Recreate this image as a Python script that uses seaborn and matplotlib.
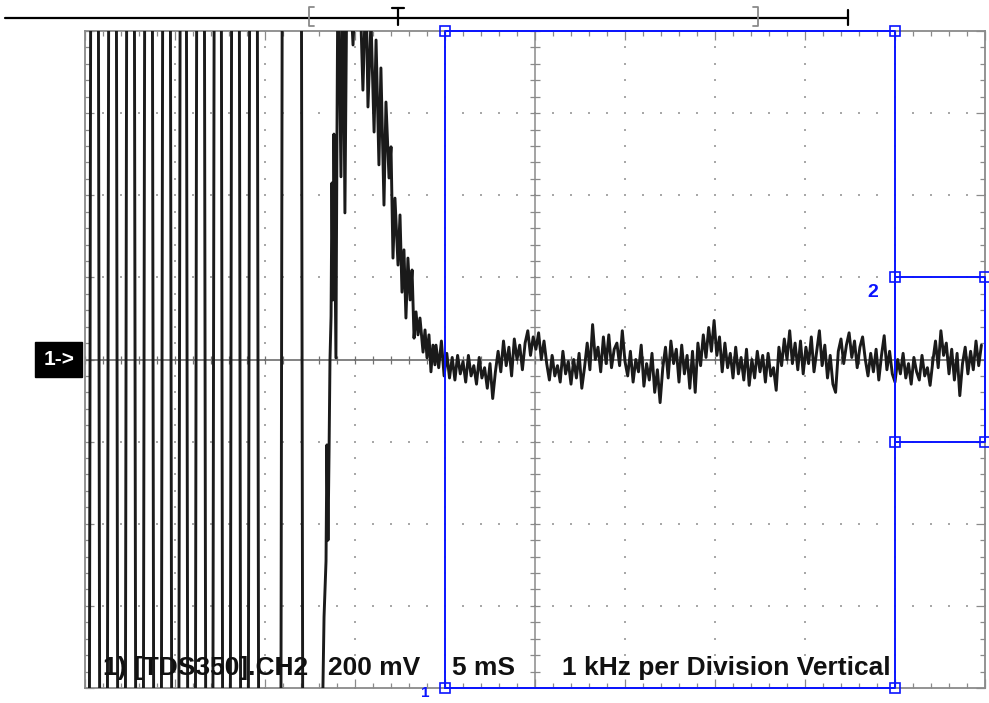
import matplotlib
matplotlib.use("Agg")
import matplotlib.pyplot as plt
import numpy as np
import pandas as pd
import seaborn as sns

# ---------------- data (time in ms, amplitude in mV) ----------------
# clipped high-amplitude sweep: times where the trace crosses the screen
cross_t = [0.28, 0.78, 1.28, 1.78, 2.28, 2.78, 3.28, 3.78, 4.28, 4.78, 5.25,
           5.67, 6.17, 6.67, 7.14, 7.61, 8.11, 8.61, 9.11, 9.61, 10.92, 12.06]
cross_dir = [1, -1, 1, -1, 1, -1, 1, -1, 1, -1, 1,
             -1, 1, -1, 1, -1, 1, -1, 1, -1, 1, -1]
clip_level = 1000  # signal beyond screen (mV)

# final rise, clipped peak and decay
peak_t = [13.11, 13.28, 13.39, 13.44, 13.50, 13.56, 13.61, 13.67, 13.72, 13.78,
          13.83, 13.89, 13.94, 14.00, 14.06, 14.22, 14.33, 14.44, 14.56, 14.72,
          14.89, 15.06, 15.28, 15.44, 15.61, 15.72, 15.89, 16.06, 16.17, 16.33,
          16.44, 16.61, 16.72, 16.89, 17.00, 17.11, 17.22, 17.39, 17.50, 17.61,
          17.72, 17.83, 17.94, 18.06, 18.17, 18.28, 18.39, 18.50, 18.61, 18.78,
          18.89, 19.00, 19.11, 19.22, 19.33, 19.44]
peak_mv = [-1100, -627, -491, -208, -440, -220, -1, 105, 430, 145,
           549, 267, 4, 559, 1022, 445, 973, 357, 998, 924,
           766, 949, 900, 656, 924, 615, 827, 554, 778, 474,
           710, 376, 627, 442, 518, 247, 393, 230, 352, 164,
           267, 101, 247, 145, 218, 52, 116, 60, 101, 18,
           72, 4, 60, -30, 35, -13]

# noise floor, sampled every 0.15 ms from 19.5 ms
noise_t0 = 19.5
noise_dt = 0.15
noise_mv = [35, -20, 45, -40, 15,
            -45, 5, -50, 10, -35, -5,
            -55, 10, -40, -15, -60, 5, -45, -20, -70, -10, -95, -30,
            20, -30, 45, -15, 30, -40, 50, 0, 35, -25, 40,
            70, 10, 55, 25, 65, 0, 45, -10,
            -50, 10, -40, -15, -55, 20, -35, -5, -60, 0, -45, 15, -70, -20,
            40, -25, 85, 0, 30, -30, 55, -10, 60, -20, 25, 40, -15, 70, -5,
            -40, 20, -55, 0, -30, 35, -65, -10, -50, 15, -80, -25, -105,
            -20, 30, -45, 45, -10, 25, -55, 35, -35, 10, -70, 20, -80, 40, -15, 60, 5, 78,
            20, 95, 10, 55,
            -30, 40, -20, 15, -45, 30, -35, 5, -50, 25, -63, 0,
            -45, 20, -30, 10, -55, 15, -40, -20, -75,
            30, -15, 50, 0, 70, -10, 40, -25,
            45, -35, 30, -10, 55, -30, 20, 70, -15, 35, -45, 10, -60, -80, 20,
            50, -10, 35, 65, 5, 45, -20, 30, 55, 0,
            -40, 15, -30, 25, -50, 10, 58, -25, 20, -35,
            -55, 0, -35, 15, -45, -10, -60, 5, -30, -50, 10, -40, -20, -63, -5,
            45, -20, 70, 10, 40, -35, 25, -50, 15, -88,
            -10, 30, -35, 20, -25, 45, -15, 35]

# cursors (ms, mV)
cursor1_t = [20, 45]
cursor1_mv = [-800, 800]
cursor2_t = [45, 50]
cursor2_mv = [-200, 200]

label_parts = ["1) [TDS350].CH2", "200 mV", "5 mS", "1 kHz per Division Vertical"]
label_t = [1.0, 13.5, 20.4, 26.5]

# ---------------- build trace ----------------
half = 0.04
tr_t = [0.0]
tr_v = [-clip_level]
for tc, dr in zip(cross_t, cross_dir):
    tr_t += [tc - half, tc + half]
    tr_v += [-dr * clip_level, dr * clip_level]
tr_t += peak_t
tr_v += peak_mv
tr_t += [noise_t0 + i * noise_dt for i in range(len(noise_mv))]
tr_v += noise_mv
trace = pd.DataFrame({"t": tr_t, "mv": tr_v})

# ---------------- figure ----------------
sns.set_style("white")
plt.rcParams["font.family"] = ["Liberation Sans", "DejaVu Sans"]

W, H = 989, 703
fig = plt.figure(figsize=(W / 100, H / 100), dpi=100)
fig.patch.set_facecolor("white")
ax = fig.add_axes([85 / W, 15 / H, 900 / W, 657 / H])
ax.set_xlim(0, 50)
ax.set_ylim(-800, 800)

gray = "#8a8a8a"
for s in ax.spines.values():
    s.set_color(gray)
    s.set_linewidth(1.3)

major_t = np.arange(0, 51, 5)
minor_t = np.arange(0, 51, 1)
major_v = np.arange(-800, 801, 200)
minor_v = np.arange(-800, 801, 40)
ax.set_xticks(major_t)
ax.set_xticks(minor_t, minor=True)
ax.set_yticks(major_v)
ax.set_yticks(minor_v, minor=True)
ax.tick_params(which="both", direction="in", top=True, right=True, bottom=True,
               left=True, labelbottom=False, labelleft=False, color=gray, width=0.9)
ax.tick_params(which="major", length=6.5)
ax.tick_params(which="minor", length=3.5)

# dotted graticule
gx, gy = [], []
for xm in major_t[1:-1]:
    if xm == 25:
        continue
    gx += [xm] * len(minor_v)
    gy += list(minor_v)
for ym in major_v[1:-1]:
    if ym == 0:
        continue
    gx += list(minor_t)
    gy += [ym] * len(minor_t)
ax.scatter(gx, gy, s=2.2, color="#a8a8a8", marker="s", linewidths=0, zorder=1)

# center cross with ticks
ax.axhline(0, color="#606060", lw=1.1, zorder=1.5)
ax.axvline(25, color="#8a8a8a", lw=1.1, zorder=1.5)
ax.plot(minor_t, np.zeros(len(minor_t)), linestyle="none", marker="|",
        markersize=6, markeredgewidth=0.9, color="#707070", zorder=1.5)
ax.plot(np.full(len(minor_v), 25), minor_v, linestyle="none", marker="_",
        markersize=7, markeredgewidth=0.9, color="#8a8a8a", zorder=1.5)

# trace
sns.lineplot(data=trace, x="t", y="mv", sort=False, estimator=None, ax=ax,
             color="#1a1a1a", lw=2.1, zorder=3)
ax.set_xlabel("")
ax.set_ylabel("")

# cursors
blue = "#0a14ff"
for ct, cv in [(cursor1_t, cursor1_mv), (cursor2_t, cursor2_mv)]:
    ax.plot([ct[0], ct[1], ct[1], ct[0], ct[0]], [cv[0], cv[0], cv[1], cv[1], cv[0]],
            color=blue, lw=1.4, clip_on=False, zorder=5)
    ax.plot([ct[0], ct[1], ct[0], ct[1]], [cv[0], cv[0], cv[1], cv[1]],
            linestyle="none", marker="s", markersize=6.5, mfc="none", mec=blue,
            mew=1.2, clip_on=False, zorder=6)
ax.text(cursor1_t[0] - 1.1, -813, "1", color=blue, fontsize=11, fontweight="bold",
        ha="center", va="center", clip_on=False)
ax.text(cursor2_t[0] - 1.25, cursor2_mv[1] - 38, "2", color=blue, fontsize=14,
        fontweight="bold", ha="center", va="center", clip_on=False)

# bottom annotation
for txt, tx in zip(label_parts, label_t):
    ax.text(tx, -768, txt, fontsize=19, fontweight="bold", color="#111111",
            ha="left", va="baseline", zorder=7)

# channel marker
ax.text(-0.012, 0, "1->", transform=ax.get_yaxis_transform(), ha="right",
        va="center", color="white", fontsize=15, fontweight="bold",
        bbox=dict(boxstyle="square,pad=0.38", fc="black", ec="black"),
        clip_on=False)

# top record bar (screen decoration, pixel space overlay)
ov = fig.add_axes([0, 0, 1, 1])
ov.set_xlim(0, W)
ov.set_ylim(H, 0)
ov.axis("off")
ov.patch.set_alpha(0)
ov.plot([5, 848], [18, 18], color="black", lw=1.6)
ov.plot([848, 848], [10, 25], color="black", lw=1.6)
ov.plot([314, 309, 309, 314], [7, 7, 26, 26], color="#8a8a8a", lw=1.3)
ov.plot([753, 758, 758, 753], [7, 7, 26, 26], color="#8a8a8a", lw=1.3)
ov.plot([392, 404], [8, 8], color="black", lw=1.6)
ov.plot([398, 398], [8, 25], color="black", lw=1.6)

fig.savefig("out.png", dpi=100, facecolor="white")
